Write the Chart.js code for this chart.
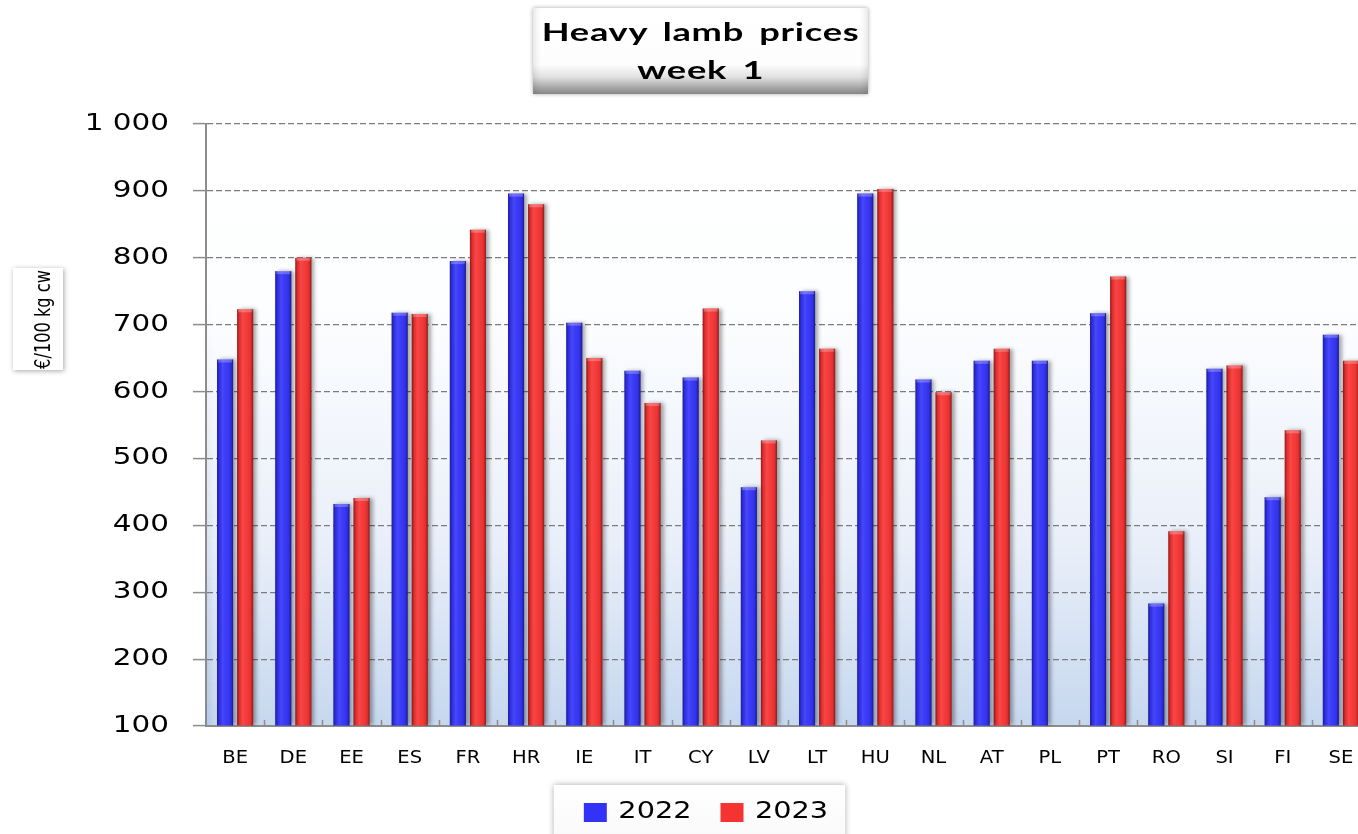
<!DOCTYPE html>
<html>
<head>
<meta charset="utf-8">
<script src="https://cdn.jsdelivr.net/npm/chart.js@4.4.1/dist/chart.umd.min.js"></script>
<style>
html,body{margin:0;padding:0;background:#fff;overflow:hidden;width:1358px;height:834px;}
#wrap{position:relative;width:1358px;height:834px;overflow:hidden;}
#c{position:absolute;left:0;top:0;}
#title{position:absolute;left:533px;top:8px;width:335px;height:86px;box-sizing:border-box;padding-top:4px;
  background:linear-gradient(to bottom,#ffffff 0%,#fdfdfd 66%,#e2e2e2 80%,#a4a4a4 93%,#888888 100%);
  box-shadow:0 0 4px rgba(0,0,0,0.35), inset 7px 0 7px -5px rgba(0,0,0,0.12), inset -7px 0 7px -5px rgba(0,0,0,0.12);
  font-family:Lato,'Open Sans',sans-serif;font-weight:700;font-size:25px;line-height:38px;text-align:center;color:#000;
  letter-spacing:0.5px;word-spacing:4px;}
#title span{display:inline-block;transform:scaleX(1.45);white-space:nowrap;}
#ytitle{position:absolute;left:13px;top:268px;width:50px;height:102px;background:#fff;
  box-shadow:1px 1px 5px rgba(0,0,0,0.35);display:flex;align-items:center;justify-content:center;}
#ytitle span{display:block;white-space:nowrap;transform:translateX(4px) rotate(-90deg) scaleY(1.2);
  font-family:'Liberation Sans Narrow','DejaVu Sans Condensed',sans-serif;font-size:18px;color:#000;}
</style>
</head>
<body>
<div id="wrap">
  <canvas id="c" width="1412" height="834"></canvas>
  <div id="title"><span>Heavy lamb prices</span><br><span>week 1</span></div>
  <div id="ytitle"><span>€/100 kg cw</span></div>
</div>
<script>
// ---- data ----
const categories = ['BE','DE','EE','ES','FR','HR','IE','IT','CY','LV','LT','HU','NL','AT','PL','PT','RO','SI','FI','SE'];
const values2022 = [648, 780, 432, 718, 795, 896, 703, 631, 621, 457, 750, 896, 618, 646, 646, 717, 283, 634, 442, 685];
const values2023 = [723, 800, 441, 716, 842, 880, 650, 583, 724, 527, 664, 903, 599, 664, null, 772, 391, 639, 542, 646];
const seriesLabels = ['2022', '2023'];
const yMin = 100, yMax = 1000, yStep = 100;

// ---- text stretch helpers (reference text is horizontally widened) ----
const protoFill = CanvasRenderingContext2D.prototype.fillText;
const protoMeasure = CanvasRenderingContext2D.prototype.measureText;
function withStretch(ctx, sx, fn) {
  ctx.fillText = function (t, x, y) {
    this.save(); this.translate(x, y); this.scale(sx, 1); protoFill.call(this, t, 0, 0); this.restore();
  };
  try { fn(); } finally { delete ctx.fillText; }
}
function withMeasure(ctx, sx, fn) {
  ctx.measureText = function (t) {
    const m = protoMeasure.call(this, t);
    return { width: m.width * sx, actualBoundingBoxAscent: m.actualBoundingBoxAscent, actualBoundingBoxDescent: m.actualBoundingBoxDescent };
  };
  try { fn(); } finally { delete ctx.measureText; }
}
const Y_SX = 1.28, X_SX = 1.15, L_SX = 1.25;

const stretchPlugin = {
  id: 'stretch',
  beforeLayout(chart) {
    const lg = chart.legend;
    if (lg && !lg.$patched) {
      lg.$patched = true;
      const fit = lg.fit;
      lg.fit = function () { withMeasure(this.ctx, L_SX, () => fit.call(this)); };
      const draw = lg.draw;
      lg.draw = function (a) {
        withMeasure(this.ctx, L_SX, () => withStretch(this.ctx, L_SX, () => draw.call(this, a)));
      };
    }
  },
  beforeDraw(chart) {
    const ys = chart.scales.y, xs = chart.scales.x;
    if (!ys.$patched) {
      ys.$patched = true;
      const d = ys.drawLabels;
      ys.drawLabels = function (a) { withStretch(this.ctx, Y_SX, () => d.call(this, a)); };
    }
    if (!xs.$patched) {
      xs.$patched = true;
      const d = xs.drawLabels;
      xs.drawLabels = function (a) { withStretch(this.ctx, X_SX, () => d.call(this, a)); };
    }
  }
};

// ---- background, legend frame, bar shading ----
const decorPlugin = {
  id: 'decor',
  beforeDraw(chart) {
    const { ctx, chartArea: a } = chart;
    ctx.save();
    const g = ctx.createLinearGradient(0, a.top, 0, a.bottom);
    g.addColorStop(0, '#ffffff');
    g.addColorStop(0.3, '#fdfeff');
    g.addColorStop(0.7, '#e9eff9');
    g.addColorStop(1, '#c6d7ee');
    ctx.fillStyle = g;
    ctx.fillRect(a.left, a.top, a.right - a.left, a.bottom - a.top);
    // faint wall shading along the value axis, fading in downwards
    const y0 = a.top + (a.bottom - a.top) * 0.3;
    const steps = 20, sh = (a.bottom - y0) / steps;
    for (let k = 0; k < steps; k++) {
      const alpha = 0.35 * (k + 1) / steps;
      const w = ctx.createLinearGradient(a.left, 0, a.left + 9, 0);
      w.addColorStop(0, 'rgba(140,165,205,' + alpha + ')');
      w.addColorStop(1, 'rgba(140,165,205,0)');
      ctx.fillStyle = w;
      ctx.fillRect(a.left, y0 + k * sh, 9, sh + 0.5);
    }
    // legend frame
    const lg = chart.legend;
    if (lg && lg.legendHitBoxes && lg.legendHitBoxes.length) {
      const hb = lg.legendHitBoxes;
      const l = hb[0].left - 30, r = hb[hb.length - 1].left + hb[hb.length - 1].width + 17;
      const t = hb[0].top - 16;
      ctx.shadowColor = 'rgba(0,0,0,0.35)';
      ctx.shadowBlur = 6;
      const lgG = ctx.createLinearGradient(0, t, 0, t + 50);
      lgG.addColorStop(0, '#ffffff');
      lgG.addColorStop(1, '#fafafa');
      ctx.fillStyle = lgG;
      ctx.fillRect(l, t, r - l, chart.height - t + 20);
    }
    ctx.restore();
  },
  beforeDatasetsDraw(chart) {
    const c = chart.ctx;
    c.save();
    c.shadowColor = 'rgba(0,0,0,0.35)';
    c.shadowBlur = 4;
    c.shadowOffsetX = 3;
    c.shadowOffsetY = 0;
  },
  afterDatasetsDraw(chart) {
    const c = chart.ctx;
    c.restore();
    const a = chart.chartArea;
    c.save();
    c.beginPath(); c.rect(a.left, a.top, a.right - a.left, a.bottom - a.top); c.clip();
    chart.data.datasets.forEach((ds, di) => {
      const meta = chart.getDatasetMeta(di);
      if (meta.hidden) return;
      meta.data.forEach((bar, i) => {
        if (ds.data[i] == null) return;
        const p = bar.getProps(['x', 'y', 'base', 'width'], true);
        const l = p.x - p.width / 2;
        const g = c.createLinearGradient(l, 0, l + p.width, 0);
        g.addColorStop(0, 'rgba(0,0,0,0.42)');
        g.addColorStop(0.15, 'rgba(0,0,0,0.08)');
        g.addColorStop(0.35, 'rgba(255,255,255,0.10)');
        g.addColorStop(0.55, 'rgba(255,255,255,0.04)');
        g.addColorStop(0.85, 'rgba(0,0,0,0.08)');
        g.addColorStop(1, 'rgba(0,0,0,0.45)');
        c.fillStyle = g;
        c.fillRect(l, p.y, p.width, p.base - p.y);
        c.fillStyle = 'rgba(255,255,255,0.25)';
        c.fillRect(l + 1, p.y, p.width - 2, 3);
      });
    });
    c.restore();
  },
  afterDraw(chart) {
    // small upward ticks at category boundaries on the category axis
    const xs = chart.scales.x, c = chart.ctx, a = chart.chartArea;
    const half = (xs.getPixelForValue(1) - xs.getPixelForValue(0)) / 2;
    c.save();
    c.strokeStyle = '#8c8c8c';
    c.lineWidth = 1.5;
    for (let i = 1; i <= categories.length; i++) {
      const x = Math.round(xs.getPixelForValue(i - 1) + half) + 0.5;
      c.beginPath(); c.moveTo(x, a.bottom - 6); c.lineTo(x, a.bottom); c.stroke();
    }
    c.restore();
  }
};

const blue = '#3333f8', red = '#f63333';

new Chart(document.getElementById('c'), {
  type: 'bar',
  data: {
    labels: categories,
    datasets: [
      { label: seriesLabels[0], data: values2022, backgroundColor: blue, borderWidth: 0, base: yMin },
      { label: seriesLabels[1], data: values2023, backgroundColor: red, borderWidth: 0, base: yMin }
    ]
  },
  options: {
    responsive: false,
    animation: false,
    devicePixelRatio: 1,
    layout: { padding: { top: 124, right: 42, bottom: 0, left: 42 } },
    datasets: { bar: { categoryPercentage: 0.69, barPercentage: 0.8 } },
    plugins: {
      title: { display: false },
      tooltip: { enabled: false },
      legend: {
        position: 'bottom',
        labels: {
          boxWidth: 23, boxHeight: 19, padding: 29, color: '#000',
          font: { family: 'DejaVu Sans', size: 23 }
        }
      }
    },
    scales: {
      x: {
        grid: { display: false, drawTicks: false },
        border: { display: true, color: '#8c8c8c', width: 2 },
        ticks: { color: '#000', padding: 22, font: { family: 'DejaVu Sans', size: 17 }, maxRotation: 0, autoSkip: false },
        afterFit: (s) => { s.height = 46; }
      },
      y: {
        min: yMin, max: yMax,
        grid: { color: '#7c7c7c', lineWidth: 1.2, tickLength: 13, tickColor: '#8c8c8c', tickWidth: 1.5 },
        border: { display: true, color: '#8c8c8c', width: 2, dash: [6, 3] },
        ticks: {
          stepSize: yStep, color: '#000', padding: 24,
          font: { family: 'DejaVu Sans', size: 23 },
          callback: (v) => String(v).replace(/\B(?=(\d{3})+(?!\d))/g, ' ')
        },
        afterFit: (s) => { s.width = 164; }
      }
    }
  },
  plugins: [stretchPlugin, decorPlugin]
});
</script>
</body>
</html>
